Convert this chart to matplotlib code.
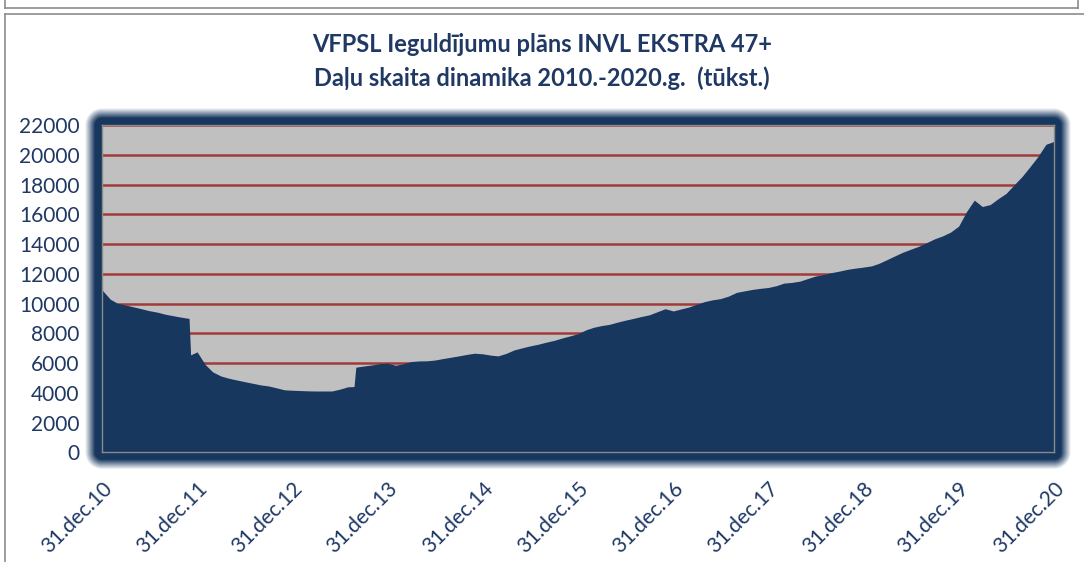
import numpy as np
import pandas as pd
import matplotlib
matplotlib.use("Agg")
import matplotlib.pyplot as plt
from matplotlib.lines import Line2D

# month-end values (thousand units), Dec 2010 .. Dec 2020
month_ends = pd.date_range("2010-12-31", periods=121, freq="ME")
units = [
    10920, 10300, 10020, 9900, 9780, 9650, 9520, 9420, 9280, 9180, 9080, 9000,
    6750, 5900, 5400, 5130, 4980, 4860, 4750, 4640, 4530, 4460, 4330, 4200,
    4170, 4150, 4130, 4120, 4120, 4120, 4240, 4400, 5720, 5800, 5870, 5960,
    5990, 5850, 5950, 6100, 6140, 6150, 6200, 6300, 6390, 6480, 6580, 6660,
    6620, 6530, 6480, 6650, 6880, 7020, 7150, 7260, 7400, 7520, 7680, 7820,
    7970, 8230, 8400, 8520, 8600, 8750, 8880, 9000, 9130, 9240, 9450, 9650,
    9500, 9640, 9760, 9950, 10130, 10250, 10330, 10500, 10750, 10850, 10950, 11020,
    11080, 11200, 11370, 11420, 11500, 11680, 11850, 11950, 12080, 12180, 12300, 12380,
    12450, 12530, 12700, 12950, 13200, 13450, 13650, 13850, 14100, 14350, 14550, 14800,
    15200, 16200, 16950, 16520, 16650, 17050, 17400, 17980, 18550, 19200, 19900, 20700,
    20900,
]
# readings around the two sharp jumps
extra_dates = ["2011-12-06", "2013-08-24"]
extra_units = [6550, 4420]

tick_labels = ["31.dec.%02d" % y for y in range(10, 21)]
y_ticks = list(range(0, 22001, 2000))

series = pd.concat([
    pd.Series(units, index=month_ends),
    pd.Series(extra_units, index=pd.to_datetime(extra_dates)),
]).sort_index()

NAVY = "#17375E"
TEXT = "#1F3864"
W, H = 1084, 562
x0, x1, y0, y1 = 102, 1054, 125, 452.3

plt.rcParams["font.family"] = ["Lato", "DejaVu Sans"]
fig = plt.figure(figsize=(W / 100, H / 100), dpi=100)
fig.patch.set_facecolor("white")

# soft navy glow around the plot area
yy, xx = np.mgrid[0:H, 0:W] + 0.5
dx = np.maximum(np.maximum(x0 - xx, xx - x1), 0)
dy = np.maximum(np.maximum(y0 - yy, yy - y1), 0)
d = np.hypot(dx, dy)
alpha = np.clip((17 - d) / 10, 0, 1)
glow = np.zeros((H, W, 4))
glow[..., 0], glow[..., 1], glow[..., 2] = 0x17 / 255, 0x37 / 255, 0x5E / 255
glow[..., 3] = alpha
fig.figimage(glow, 0, 0, origin="upper", zorder=-1)

ax = fig.add_axes([x0 / W, (H - y1) / H, (x1 - x0) / W, (y1 - y0) / H], zorder=1)
ax.set_facecolor("#C0C0C0")
ax.fill_between(series.index, series.values, 0, color=NAVY, lw=0, zorder=3)
ax.set_xlim(month_ends[0], month_ends[-1])
ax.set_ylim(0, 22000)
ax.set_yticks(y_ticks)
ax.set_yticklabels([str(v) for v in y_ticks])
ax.yaxis.grid(True, color="#A33A3A", lw=1.8, zorder=1)
ax.set_axisbelow(True)
ax.set_xticks(month_ends[::12])
ax.set_xticklabels(tick_labels, rotation=45, ha="right", va="top", rotation_mode="anchor")
ax.tick_params(axis="both", length=0, colors=TEXT, labelsize=15)
ax.tick_params(axis="y", pad=16)
ax.tick_params(axis="x", pad=19)
for sp in ax.spines.values():
    sp.set_color("#8A8A8A")
    sp.set_linewidth(1.0)
    sp.set_zorder(4)

fig.text(0.5, 1 - 45 / H, "VFPSL Ieguldījumu plāns INVL EKSTRA 47+", ha="center", va="center",
         fontsize=17, fontweight="bold", color=TEXT)
fig.text(0.5, 1 - 78 / H, "Daļu skaita dinamika 2010.-2020.g.  (tūkst.)", ha="center", va="center",
         fontsize=17, fontweight="bold", color=TEXT)

# outer frame lines
gray = "#8C8C8C"
fig.add_artist(Line2D([5 / W, 5 / W], [1, 1 - 8 / H], color=gray, lw=1.2))
fig.add_artist(Line2D([5 / W, 1078 / W], [1 - 8 / H, 1 - 8 / H], color=gray, lw=1.2))
fig.add_artist(Line2D([1078 / W, 1078 / W], [1, 1 - 8 / H], color=gray, lw=1.2))
fig.add_artist(Line2D([5 / W, 1], [1 - 14 / H, 1 - 14 / H], color=gray, lw=1.2))
fig.add_artist(Line2D([5 / W, 5 / W], [1 - 14 / H, 0], color=gray, lw=1.2))

fig.savefig("out.png", dpi=100)
